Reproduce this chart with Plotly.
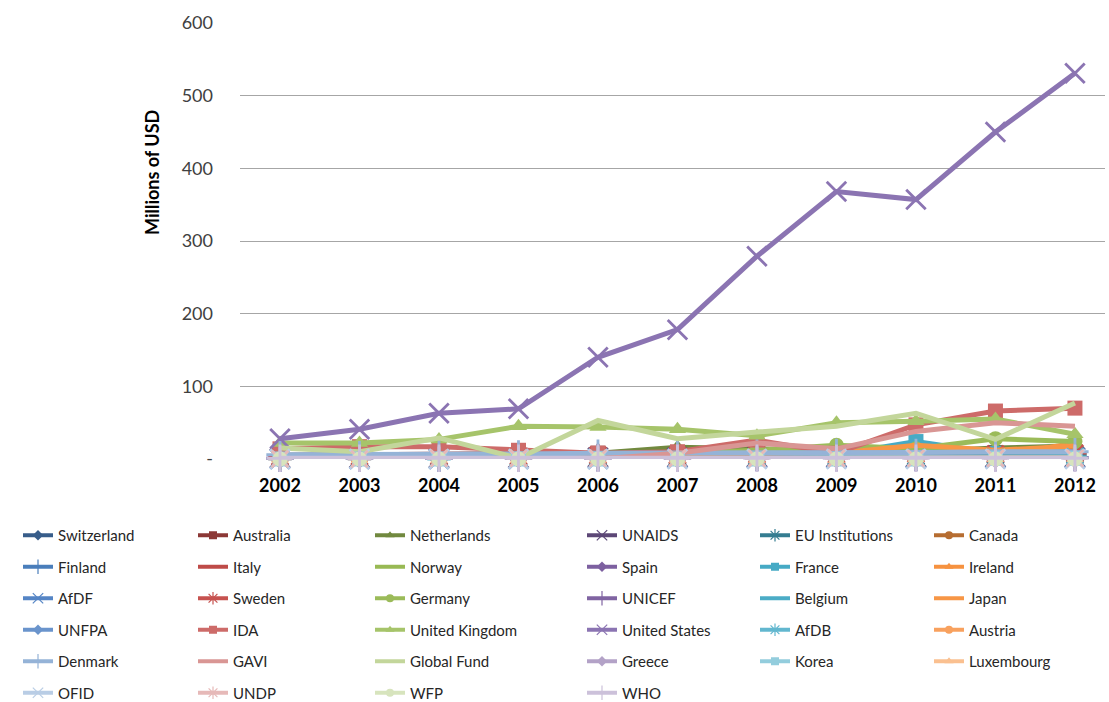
import plotly.graph_objects as go

# Years on the category axis
years = [2002, 2003, 2004, 2005, 2006, 2007, 2008, 2009, 2010, 2011, 2012]
year_labels = [str(y) for y in years]

# Donor / channel names, in series order
donors = [
    "Switzerland", "Australia", "Netherlands", "UNAIDS", "EU Institutions", "Canada",
    "Finland", "Italy", "Norway", "Spain", "France", "Ireland",
    "AfDF", "Sweden", "Germany", "UNICEF", "Belgium", "Japan",
    "UNFPA", "IDA", "United Kingdom", "United States", "AfDB", "Austria",
    "Denmark", "GAVI", "Global Fund", "Greece", "Korea", "Luxembourg",
    "OFID", "UNDP", "WFP", "WHO",
]

# Disbursements, millions of USD, 2002-2012
switzerland = [3, 3, 4, 4, 4, 5, 5, 6, 6, 6, 6]
australia = [5, 6, 7, 7, 8, 7, 8, 8, 9, 9, 10]
netherlands = [2, 3, 3, 4, 8, 16, 14, 12, 10, 15, 18]
unaids = [1, 1, 1, 1, 2, 2, 2, 2, 2, 2, 2]
eu_institutions = [1, 1, 2, 2, 3, 3, 3, 4, 4, 5, 6]
canada = [2, 3, 3, 4, 4, 5, 5, 6, 10, 8, 12]
finland = [1, 1, 1, 2, 2, 2, 2, 2, 2, 2, 2]
italy = [2, 2, 2, 2, 3, 3, 2, 2, 2, 1, 1]
norway = [3, 4, 4, 5, 6, 8, 10, 15, 10, 12, 12]
spain = [0, 0, 1, 1, 2, 3, 4, 4, 3, 2, 1]
france = [2, 2, 3, 3, 4, 4, 5, 6, 24, 8, 10]
ireland = [1, 1, 2, 2, 2, 3, 3, 3, 3, 3, 22]
afdf = [0, 0, 0, 0, 0, 1, 1, 1, 1, 1, 1]
sweden = [3, 3, 4, 4, 5, 5, 6, 6, 7, 7, 8]
germany = [3, 2, 2, 3, 5, 8, 12, 19, 14, 28, 24]
unicef = [1, 1, 1, 1, 1, 1, 2, 2, 2, 2, 2]
belgium = [1, 1, 1, 1, 2, 2, 2, 2, 3, 3, 3]
japan = [3, 3, 4, 5, 5, 6, 7, 8, 19, 12, 18]
unfpa = [0, 0, 1, 1, 1, 1, 1, 2, 2, 2, 2]
ida = [14, 17, 17, 12, 8, 10, 26, 8, 47, 66, 70]
united_kingdom = [22, 22, 27, 45, 44, 41, 32, 50, 52, 55, 34]
united_states = [28, 41, 63, 69, 140, 178, 279, 368, 357, 450, 531]
afdb = [0, 0, 0, 1, 1, 1, 1, 2, 2, 2, 3]
austria = [0, 0, 0, 0, 0, 0, 0, 0, 0, 1, 1]
denmark = [6, 6, 7, 7, 8, 8, 8, 9, 9, 10, 10]
gavi = [0, 0, 0, 0, 0, 8, 22, 14, 38, 50, 45]
global_fund = [15, 10, 29, 1, 53, 28, 37, 45, 63, 27, 77]
greece = [0, 0, 0, 0, 0, 0, 0, 0, 0, 0, 0]
korea = [0, 0, 0, 0, 0, 0, 0, 0, 0, 1, 1]
luxembourg = [0, 0, 0, 0, 0, 0, 0, 0, 1, 1, 1]
ofid = [0, 0, 0, 0, 0, 0, 0, 0, 0, 0, 0]
undp = [0, 0, 1, 1, 1, 1, 1, 1, 1, 1, 1]
wfp = [0, 0, 0, 0, 0, 0, 0, 0, 0, 0, 0]
who = [1, 1, 1, 1, 1, 1, 1, 1, 1, 1, 1]

series_values = [
    switzerland, australia, netherlands, unaids, eu_institutions, canada,
    finland, italy, norway, spain, france, ireland,
    afdf, sweden, germany, unicef, belgium, japan,
    unfpa, ida, united_kingdom, united_states, afdb, austria,
    denmark, gavi, global_fund, greece, korea, luxembourg,
    ofid, undp, wfp, who,
]

# Axis tick values / labels
y_ticks = [0, 100, 200, 300, 400, 500, 600]
y_tick_labels = ["-", "100", "200", "300", "400", "500", "600"]

colors = [
    "#385D8A", "#8C3836", "#71893F", "#5C4776", "#357D91", "#B66D31",
    "#4A7EBB", "#BE4B48", "#98B954", "#7D60A0", "#46AAC5", "#F69240",
    "#5585C5", "#C6524F", "#9BBB59", "#8064A2", "#4BACC6", "#F79646",
    "#6A94CC", "#CD6B69", "#A6C46A", "#8B74B2", "#62B7CF", "#F8A15E",
    "#95B3D7", "#D99694", "#C3D69B", "#B3A2C7", "#93CDDD", "#FAC090",
    "#B9CDE5", "#E6B9B8", "#D7E4BD", "#CCC1DA",
]

# Marker cycle (None = plain line)
symbol_cycle = ["diamond", "square", "triangle-up", "x-thin", "asterisk",
                "circle", "cross-thin", None, None]
line_symbols = {"x-thin", "asterisk", "cross-thin"}

FONT = "Lato, 'Open Sans', sans-serif"
W, H = 1109, 702
L, R, T, B = 240, 4, 23, 243

fig = go.Figure()


def marker_style(sym, color, size, stroke):
    if sym in line_symbols:
        return dict(symbol=sym, size=size * 1.3, color=color,
                    line=dict(color=color, width=stroke))
    return dict(symbol=sym, size=size, color=color, line=dict(color=color, width=0))


# Data traces
for i, (name, vals) in enumerate(zip(donors, series_values)):
    sym = symbol_cycle[i % len(symbol_cycle)]
    kw = dict(mode="lines")
    if sym:
        kw = dict(mode="lines+markers", marker=marker_style(sym, colors[i], 15, 2.8))
    fig.add_trace(go.Scatter(
        x=years, y=vals, name=name, showlegend=False, cliponaxis=False,
        line=dict(color=colors[i], width=5), hoverinfo="x+y+name", **kw,
    ))

# Legend: six columns, filled row by row
n_cols = 6
legend_ids = ["legend", "legend2", "legend3", "legend4", "legend5", "legend6"]
for i, (name, vals) in enumerate(zip(donors, series_values)):
    sym = symbol_cycle[i % len(symbol_cycle)]
    kw = dict(mode="lines")
    if sym:
        kw = dict(mode="lines+markers", marker=marker_style(sym, colors[i], 8, 1.2))
    fig.add_trace(go.Scatter(
        x=[None], y=[None], name=name, legend=legend_ids[i % n_cols],
        legendgroup=f"g{i}", line=dict(color=colors[i], width=4), **kw,
    ))

col_x = [18, 193, 370, 582, 755, 929]
legend_top = 519
legend_common = dict(
    orientation="v", xref="container", yref="container",
    xanchor="left", yanchor="top", bgcolor="rgba(0,0,0,0)",
    font=dict(family=FONT, size=15, color="#262626"),
    tracegroupgap=9, borderwidth=0,
)
layout_legends = {}
for k, lid in enumerate(legend_ids):
    layout_legends[lid] = dict(x=col_x[k] / W, y=1 - legend_top / H, **legend_common)

fig.update_layout(
    width=W, height=H,
    margin=dict(l=L, r=R, t=T, b=B, autoexpand=False),
    paper_bgcolor="white", plot_bgcolor="white",
    font=dict(family=FONT),
    xaxis=dict(
        range=[2001.497, 2012.378], tickvals=years, ticktext=year_labels,
        showgrid=False, zeroline=False, showline=False, ticks="",
        tickfont=dict(family=FONT, size=18, color="#000000", weight="bold"),
        ticklabelstandoff=14, automargin=False,
    ),
    yaxis=dict(
        range=[0, 600], tickvals=y_ticks, ticktext=y_tick_labels,
        showgrid=True, gridcolor="#A6A6A6", gridwidth=1.2,
        zeroline=False, showline=False, ticks="",
        tickfont=dict(family=FONT, size=18, color="#404040"),
        ticklabelstandoff=26, automargin=False,
    ),
    annotations=[dict(
        text="<b>Millions of USD</b>", textangle=-90,
        xref="paper", yref="paper",
        x=(152 - L) / (W - L - R), y=(H - B - 173) / (H - B - T),
        xanchor="center", yanchor="middle", showarrow=False,
        font=dict(family=FONT, size=18, color="#000000"),
    )],
    **layout_legends,
)

fig.write_html("out.html")
